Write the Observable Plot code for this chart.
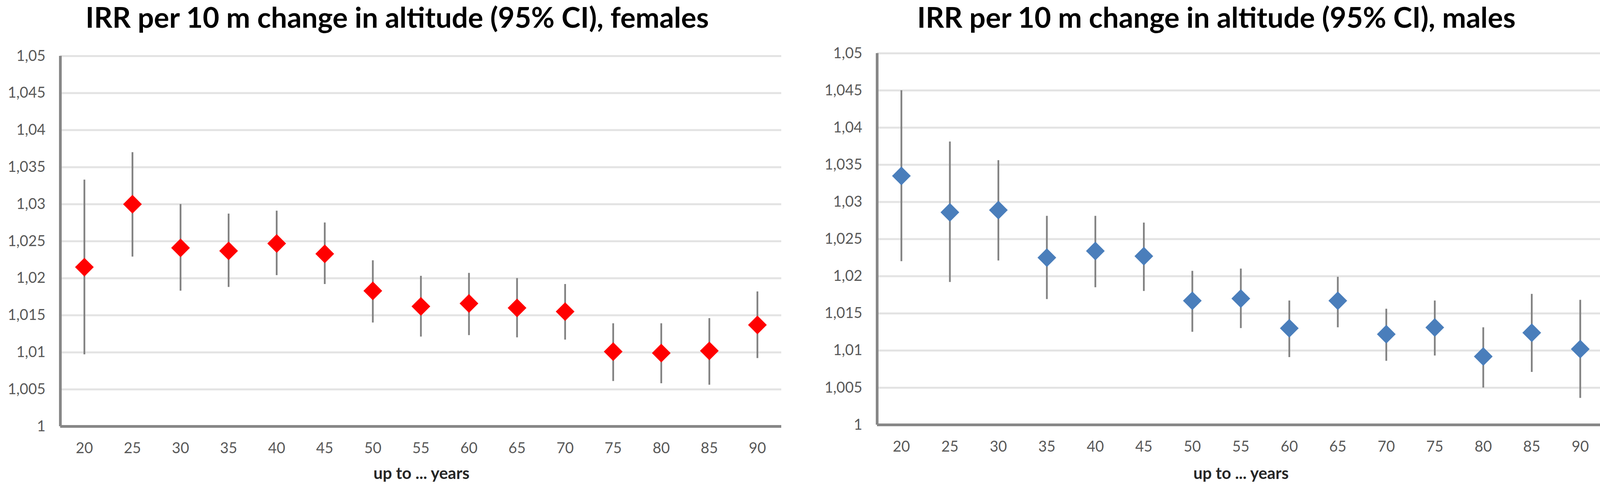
<!DOCTYPE html>
<html>
<head>
<meta charset="utf-8">
<script src="https://cdn.jsdelivr.net/npm/d3@7"></script>
<script src="https://cdn.jsdelivr.net/npm/@observablehq/plot@0.6"></script>
<style>
  html, body { margin: 0; padding: 0; background: #ffffff; }
  #page { position: relative; width: 4124px; height: 1244px; overflow: hidden; background: #fff; }
  .panel { position: absolute; top: 0; width: 2062px; height: 1244px; }
  .title { position: absolute; top: 0; font-family: Lato, "Open Sans", sans-serif; font-weight: 700; font-size: 72px; line-height: 1.2; color: #000; white-space: nowrap; }
  .xlabel { position: absolute; font-family: Lato, "Open Sans", sans-serif; font-weight: 700; font-size: 40px; line-height: 1.2; color: #262626; white-space: nowrap; }
  .chart { position: absolute; top: 100px; left: 0; }
</style>
</head>
<body>
<div id="page">
  <div class="panel" id="left" style="left:0px">
    <span class="title" id="titleF">IRR per 10 m change in altitude (95% CI), females</span>
    <div class="chart" id="chartF"></div>
    <span class="xlabel" id="xlabF">up to ... years</span>
  </div>
  <div class="panel" id="right" style="left:2062px">
    <span class="title" id="titleM">IRR per 10 m change in altitude (95% CI), males</span>
    <div class="chart" id="chartM"></div>
    <span class="xlabel" id="xlabM">up to ... years</span>
  </div>
</div>
<script>
// ---- data ----
const ages = [20, 25, 30, 35, 40, 45, 50, 55, 60, 65, 70, 75, 80, 85, 90];

const femaleIRR = [1.0215, 1.0300, 1.0241, 1.0237, 1.0247, 1.0233, 1.0183, 1.0162, 1.0166, 1.0160, 1.0155, 1.0101, 1.0099, 1.0102, 1.0137];
const femaleLo  = [1.0097, 1.0229, 1.0183, 1.0188, 1.0204, 1.0192, 1.0140, 1.0121, 1.0123, 1.0120, 1.0117, 1.0061, 1.0058, 1.0056, 1.0092];
const femaleHi  = [1.0333, 1.0370, 1.0300, 1.0287, 1.0291, 1.0275, 1.0224, 1.0203, 1.0207, 1.0200, 1.0192, 1.0139, 1.0139, 1.0146, 1.0182];

const maleIRR = [1.0335, 1.0286, 1.0289, 1.0225, 1.0234, 1.0227, 1.0167, 1.0170, 1.0130, 1.0167, 1.0122, 1.0131, 1.0092, 1.0124, 1.0102];
const maleLo  = [1.0220, 1.0192, 1.0221, 1.0169, 1.0185, 1.0180, 1.0125, 1.0130, 1.0091, 1.0131, 1.0086, 1.0093, 1.0050, 1.0071, 1.0036];
const maleHi  = [1.0450, 1.0381, 1.0356, 1.0281, 1.0281, 1.0272, 1.0207, 1.0210, 1.0167, 1.0199, 1.0156, 1.0167, 1.0131, 1.0176, 1.0168];

const yTicks = [1, 1.005, 1.01, 1.015, 1.02, 1.025, 1.03, 1.035, 1.04, 1.045, 1.05];
const yTickLabels = ["1", "1,005", "1,01", "1,015", "1,02", "1,025", "1,03", "1,035", "1,04", "1,045", "1,05"];

// ---- chart builder ----
function makeChart(irr, lo, hi, color, m) {
  const rows = ages.map((a, i) => ({age: a, irr: irr[i], lo: lo[i], hi: hi[i]}));
  const xDomain = [ages[0] - 2.5, ages[ages.length - 1] + 2.5];
  const grid = yTicks.slice(1);
  return Plot.plot({
    width: 2062,
    height: 1080,
    marginLeft: m.left,
    marginRight: m.right,
    marginTop: m.top,
    marginBottom: m.bottom,
    style: {fontFamily: "Lato, 'Open Sans', sans-serif", fontSize: "38px", color: "#595959", background: "transparent", overflow: "visible"},
    x: {type: "linear", domain: xDomain, ticks: ages, tickFormat: d => String(d), tickSize: 0, tickPadding: 42, label: null},
    y: {domain: [yTicks[0], yTicks[yTicks.length - 1]], ticks: yTicks, tickFormat: d => yTickLabels[yTicks.findIndex(t => Math.abs(t - d) < 1e-9)], tickSize: 0, tickPadding: 38, label: null},
    marks: [
      Plot.ruleY(grid, {stroke: "#e3e3e3", strokeWidth: 5}),
      Plot.ruleX([xDomain[0]], {stroke: "#878787", strokeWidth: 7}),
      Plot.ruleY([yTicks[0]], {stroke: "#878787", strokeWidth: 7}),
      Plot.ruleX(rows, {x: "age", y1: "lo", y2: "hi", stroke: "#828282", strokeWidth: 4.5}),
      Plot.dot(rows, {x: "age", y: "irr", symbol: d3.symbolDiamond2, r: 21.6, fill: color, stroke: "none"})
    ]
  });
}

document.getElementById("chartF").appendChild(
  makeChart(femaleIRR, femaleLo, femaleHi, "#ff0000", {left: 154, right: 62, top: 43, bottom: 89})
);
document.getElementById("chartM").appendChild(
  makeChart(maleIRR, maleLo, maleHi, "#4a7ebb", {left: 183, right: 17, top: 36, bottom: 93})
);

// ---- fit text blocks to the reference's text widths ----
function fitWidth(el, target) {
  const w = el.getBoundingClientRect().width;
  const fs = parseFloat(getComputedStyle(el).fontSize);
  el.style.fontSize = (fs * target / w) + "px";
}
function place(el, left, centerX, baseline) {
  const w = el.getBoundingClientRect().width;
  const fs = parseFloat(getComputedStyle(el).fontSize);
  el.style.left = (centerX != null ? centerX - w / 2 : left) + "px";
  el.style.top = Math.max(0, baseline - 0.987 * fs) + "px";
}
const tF = document.getElementById("titleF"), tM = document.getElementById("titleM");
fitWidth(tF, 1596); place(tF, 219, null, 67);
fitWidth(tM, 1532); place(tM, 286, null, 65);
const xF = document.getElementById("xlabF"), xM = document.getElementById("xlabM");
fitWidth(xF, 246); place(xF, null, 1079, 1226);
fitWidth(xM, 244); place(xM, null, 1115, 1226);
</script>
</body>
</html>
